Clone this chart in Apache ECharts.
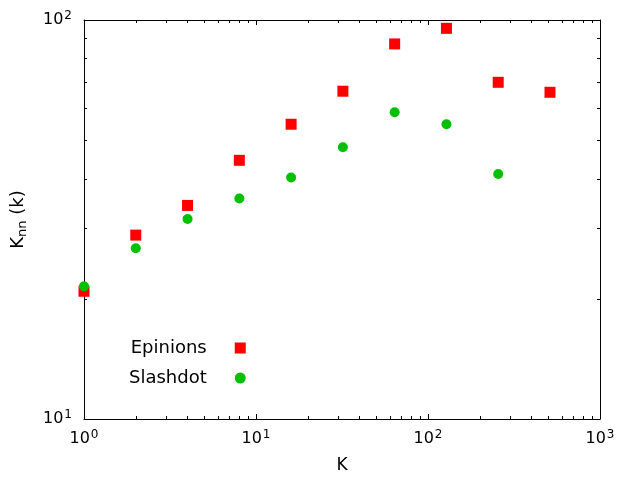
<!DOCTYPE html>
<html>
<head>
<meta charset="utf-8">
<script src="https://cdn.jsdelivr.net/npm/echarts@6/dist/echarts.min.js"></script>
<style>
  html, body { margin: 0; padding: 0; background: #fff; }
  #chart { width: 640px; height: 480px; }
</style>
</head>
<body>
<div id="chart"></div>
<script>
// degree K and average neighbour degree Knn(k)
var epinionsK = [1, 2, 4, 8, 16, 32, 64, 128, 256, 512];
var epinionsKnn = [20.9, 28.9, 34.3, 44.5, 54.8, 66.3, 87.1, 95.3, 69.8, 65.9];
var slashdotK = [1, 2, 4, 8, 16, 32, 64, 128, 256];
var slashdotKnn = [21.5, 26.8, 31.7, 35.7, 40.3, 48.0, 58.7, 54.8, 41.1];

var font = 'DejaVu Sans';

function pairs(xs, ys) {
    var out = [];
    for (var i = 0; i < xs.length; i++) {
        out.push([xs[i], ys[i]]);
    }
    return out;
}

function powLabel(value) {
    return '{b|10}{s|' + Math.round(Math.log10(value)) + '}';
}

var powRich = {
    b: { fontFamily: font, fontSize: 16, color: '#000', lineHeight: 18 },
    s: { fontFamily: font, fontSize: 12, color: '#000', verticalAlign: 'top', padding: [0, 0, 8, 1] }
};

function logAxis(pos, min, max, showLabel) {
    return {
        type: 'log',
        logBase: 10,
        position: pos,
        min: min,
        max: max,
        axisLine: { show: true, onZero: false, lineStyle: { color: '#000', width: 1 } },
        axisTick: { show: true, inside: true, length: 5, lineStyle: { color: '#000' } },
        minorTick: { show: true, splitNumber: 9, length: 3, lineStyle: { color: '#000' } },
        splitLine: { show: false },
        minorSplitLine: { show: false },
        axisLabel: {
            show: showLabel,
            formatter: powLabel,
            rich: powRich,
            margin: 10
        }
    };
}

var xBottom = logAxis('bottom', 1, 1000, true);
xBottom.name = 'K';
xBottom.nameLocation = 'middle';
xBottom.nameGap = 38;
xBottom.nameTextStyle = { fontFamily: font, fontSize: 17, color: '#000' };

var yLeft = logAxis('left', 10, 100, true);
yLeft.axisLabel.margin = 12;
yLeft.name = 'K{sub|nn} (k)';
yLeft.nameLocation = 'middle';
yLeft.nameGap = 55;
yLeft.nameTextStyle = {
    fontFamily: font, fontSize: 18, color: '#000',
    rich: { sub: { fontFamily: font, fontSize: 13, color: '#000', verticalAlign: 'bottom', padding: [9, 0, 0, 0] } }
};

var option = {
    backgroundColor: '#fff',
    animation: false,
    grid: { left: 84, right: 40, top: 20, bottom: 61, containLabel: false, outerBoundsMode: 'none' },
    legend: {
        orient: 'vertical',
        left: 124,
        top: 334,
        align: 'right',
        itemGap: 12,
        itemWidth: 11,
        itemHeight: 11,
        textStyle: {
            fontFamily: font, fontSize: 18, color: '#000',
            width: 90, align: 'right', padding: [0, 23, 0, 0]
        },
        data: ['Epinions', 'Slashdot']
    },
    xAxis: [xBottom, logAxis('top', 1, 1000, false)],
    yAxis: [yLeft, logAxis('right', 10, 100, false)],
    series: [{
        name: 'Epinions',
        type: 'scatter',
        symbol: 'rect',
        symbolSize: 11,
        itemStyle: { color: '#ff0000', opacity: 1 },
        clip: false,
        z: 3,
        data: pairs(epinionsK, epinionsKnn)
    }, {
        name: 'Slashdot',
        type: 'scatter',
        symbol: 'circle',
        symbolSize: 10,
        itemStyle: { color: '#00c000', opacity: 1 },
        clip: false,
        z: 4,
        data: pairs(slashdotK, slashdotKnn)
    }]
};

var chart = echarts.init(document.getElementById('chart'), null, { renderer: 'canvas' });
chart.setOption(option);
</script>
</body>
</html>
